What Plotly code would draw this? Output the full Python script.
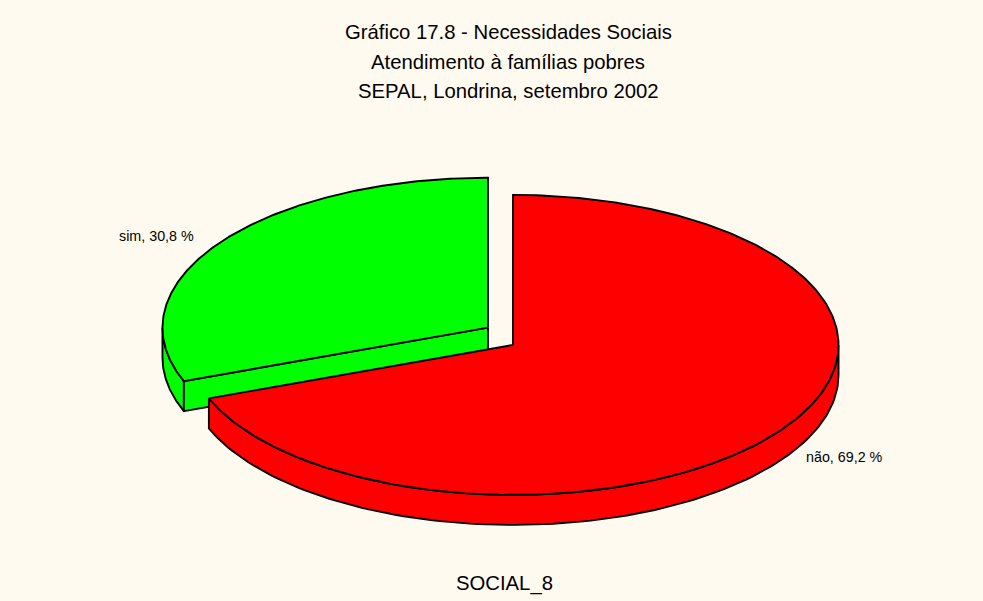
import numpy as np
import plotly.graph_objects as go

# ---- data ----
categories = ["sim", "não"]
values = [30.8, 69.2]
colors = ["#00FF00", "#FF0000"]

title_lines = ["Gráfico 17.8 - Necessidades Sociais",
               "Atendimento à famílias pobres",
               "SEPAL, Londrina, setembro 2002"]
footer = "SOCIAL_8"

# ---- geometry / style ----
W, H = 983, 601
BG = "#FFFAF0"
cx0, cy0 = 500.5, 336.3      # base centre of the pie (pixel units)
rx, ry = 325.5, 150.0        # ellipse radii
depth = 30.0                 # thickness of the pie
explode = 15.2               # pull-out of each slice
start_angle = 90.0           # first slice starts at 12 o'clock, ccw
edge = dict(color="black", width=1.9)
FONT = "Liberation Sans, Arial"

fig = go.Figure()

total = sum(values)
slices = []
a = start_angle
for cat, v, col in zip(categories, values, colors):
    span = v / total * 360.0
    a0, a1 = a, a + span
    m = np.radians((a0 + a1) / 2)
    cx = cx0 + explode * np.cos(m)
    cy = cy0 - explode * np.sin(m)
    slices.append(dict(cat=cat, v=v, col=col, a0=a0, a1=a1, cx=cx, cy=cy, m=m))
    a = a1


def pt(s, t, dz=0.0):
    r = np.radians(t)
    return s["cx"] + rx * np.cos(r), s["cy"] - ry * np.sin(r) + dz


def poly(xs, ys, col):
    fig.add_trace(go.Scatter(x=list(xs) + [xs[0]], y=list(ys) + [ys[0]],
                             mode="lines", fill="toself", fillcolor=col,
                             line=edge, hoverinfo="skip", showlegend=False))


# draw back slices first
for s in sorted(slices, key=lambda s: s["cy"]):
    a0, a1 = s["a0"], s["a1"]
    # outer wall: visible part of arc between 180 and 360 degrees
    for k in range(-1, 2):
        lo = max(a0, 180 + 360 * k)
        hi = min(a1, 360 + 360 * k)
        if hi > lo:
            ts = np.linspace(lo, hi, 120)
            top = [pt(s, t) for t in ts]
            bot = [pt(s, t, depth) for t in ts[::-1]]
            xs = [p[0] for p in top + bot]
            ys = [p[1] for p in top + bot]
            poly(xs, ys, s["col"])
    # radial side faces facing the viewer
    for ang, visible in ((a0, np.cos(np.radians(a0)) > 1e-6),
                         (a1, np.cos(np.radians(a1)) < -1e-6)):
        if visible:
            ex, ey = pt(s, ang)
            xs = [s["cx"], ex, ex, s["cx"]]
            ys = [s["cy"], ey, ey + depth, s["cy"] + depth]
            poly(xs, ys, s["col"])
    # top face
    ts = np.linspace(a0, a1, 300)
    xs = [s["cx"]] + [pt(s, t)[0] for t in ts]
    ys = [s["cy"]] + [pt(s, t)[1] for t in ts]
    poly(xs, ys, s["col"])

# slice labels
for s in slices:
    lx = cx0 + 418 * np.cos(s["m"])
    ly = cy0 - 195 * np.sin(s["m"]) + 10
    txt = f"{s['cat']}, {s['v']:.1f} %".replace(".", ",")
    fig.add_annotation(x=lx, y=ly, text=txt, showarrow=False,
                       xanchor="center", yanchor="middle",
                       font=dict(family=FONT, size=14.3, color="black"))

# titles
for i, line in enumerate(title_lines):
    fig.add_annotation(x=508, y=32 + 29.5 * i, text=line, showarrow=False,
                       xanchor="center", yanchor="middle",
                       font=dict(family=FONT, size=20.3, color="black"))
fig.add_annotation(x=504, y=583, text=footer, showarrow=False,
                   xanchor="center", yanchor="middle",
                   font=dict(family=FONT, size=20.3, color="black"))

fig.update_layout(width=W, height=H, margin=dict(l=0, r=0, t=0, b=0),
                  paper_bgcolor=BG, plot_bgcolor=BG,
                  xaxis=dict(range=[0, W], visible=False, fixedrange=True),
                  yaxis=dict(range=[H, 0], visible=False, fixedrange=True),
                  showlegend=False)

fig.write_html("out.html")
